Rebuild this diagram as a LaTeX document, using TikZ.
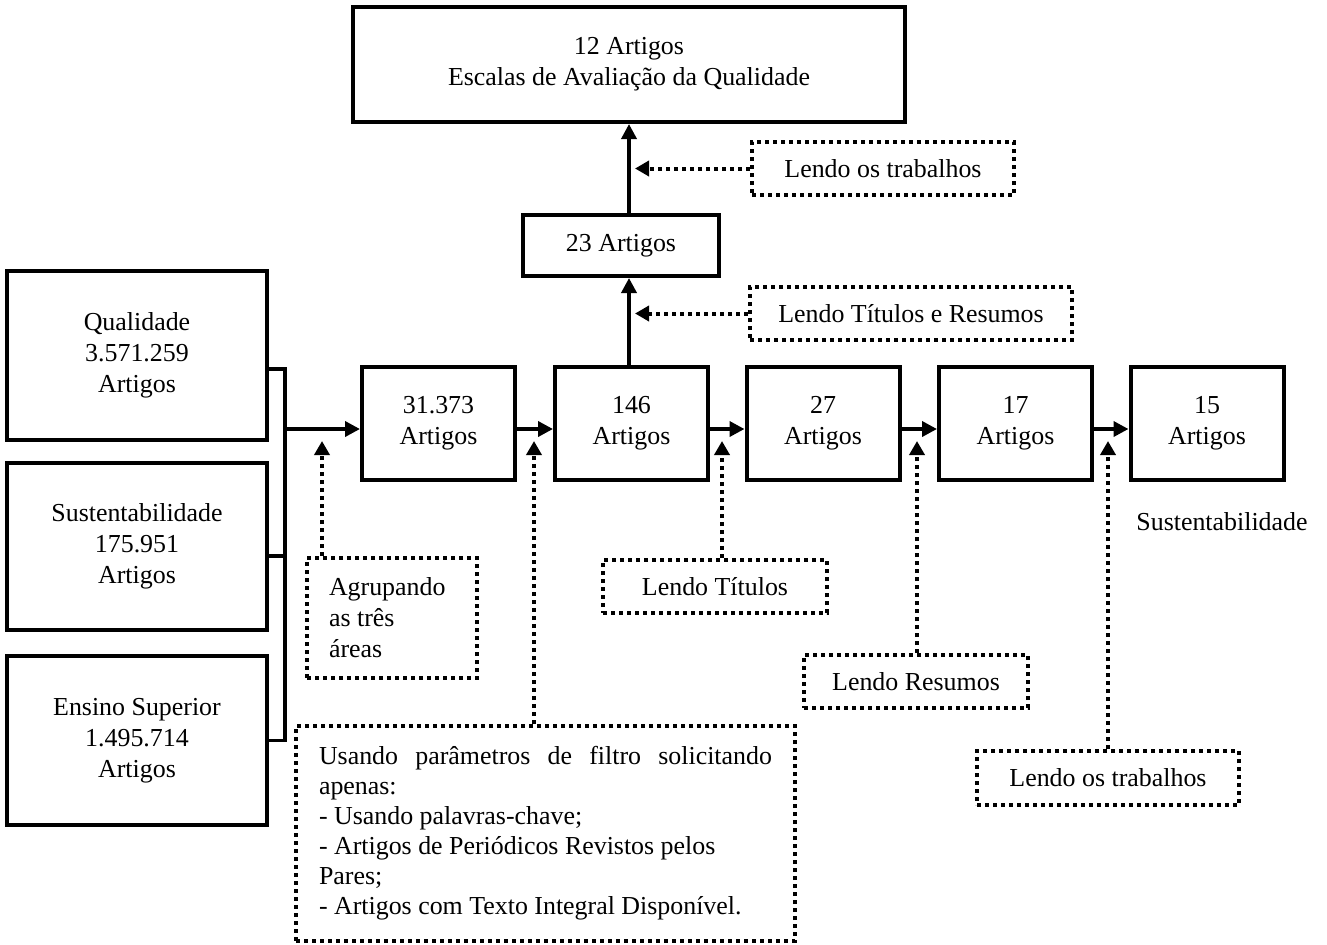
\documentclass[tikz,border=0pt]{standalone}
\usepackage{fontspec}
\setmainfont{Liberation Serif}
\usetikzlibrary{arrows.meta}

\begin{document}
\begin{tikzpicture}[x=0.5pt,y=-0.5pt,
	every node/.style={font=\fontsize{12.95}{15.5}\selectfont},
	box/.style={draw=black, line width=2pt, inner sep=0pt, align=center},
	rowbox/.style={box, minimum width=76.5pt, minimum height=56.5pt},
	dotbox/.style={draw=black, line width=2pt, dash pattern=on 2pt off 2pt, inner sep=0pt, align=center},
	line/.style={line width=1.8pt},
	arr/.style={line width=1.8pt, -{Triangle[length=7.5pt,width=7.5pt]}},
	darr/.style={line width=2pt, dash pattern=on 2pt off 2pt, -{Triangle[length=7pt,width=7.5pt]}}]

	\useasboundingbox (0,0) rectangle (1327,944);

	% resultado final
	\node[box, minimum width=276pt, minimum height=57.5pt] (top) at (629,64.5) {12 Artigos\\Escalas de Avaliação da Qualidade};
	\node[box, minimum width=98pt, minimum height=30.5pt] (n23) at (621,245.5) {23 Artigos};

	% bases de partida
	\node[box, minimum width=130pt, minimum height=84.5pt] (qual) at (137,355.5) {Qualidade\\3.571.259\\Artigos};
	\node[box, minimum width=130pt, minimum height=83.5pt] (sust) at (137,546.5) {Sustentabilidade\\175.951\\Artigos};
	\node[box, minimum width=130pt, minimum height=84.5pt] (ens) at (137,740.5) {Ensino Superior\\1.495.714\\Artigos};

	% linha de filtragem
	\node[rowbox] (n31) at (438.5,423.5) {31.373\\Artigos};
	\node[rowbox] (n146) at (631.5,423.5) {146\\Artigos};
	\node[rowbox] (n27) at (823,423.5) {27\\Artigos};
	\node[rowbox] (n17) at (1015.5,423.5) {17\\Artigos};
	\node[rowbox] (n15) at (1207,423.5) {15\\Artigos};
	\node (lbl) at (1222,522) {Sustentabilidade};

	% criterios
	\node[dotbox, minimum width=131pt, minimum height=26.5pt] (ltrabA) at (883,168.5) {Lendo os trabalhos};
	\node[dotbox, minimum width=161pt, minimum height=26.5pt] (ltr) at (911,313.5) {Lendo Títulos e Resumos};
	\node[dotbox, minimum width=85pt, minimum height=60pt, text width=63pt, align=flush left] (agr) at (392,618) {Agrupando\\as três\\áreas};
	\node[dotbox, minimum width=249.5pt, minimum height=107.5pt, text width=226.5pt, align=flush left, font=\fontsize{12.95}{15}\selectfont] (filt) at (545.5,833.5) {Usando\hfill parâmetros\hfill de\hfill filtro\hfill solicitando\\apenas:\\- Usando palavras-chave;\\- Artigos de Periódicos Revistos pelos\\Pares;\\- Artigos com Texto Integral Disponível.};
	\node[dotbox, minimum width=112pt, minimum height=26.5pt] (ltit) at (715,586.5) {Lendo Títulos};
	\node[dotbox, minimum width=112pt, minimum height=26.5pt] (lres) at (916,681.5) {Lendo Resumos};
	\node[dotbox, minimum width=131pt, minimum height=27pt] (ltrabB) at (1108,778) {Lendo os trabalhos};

	\coordinate (jn) at (285,429);
	\coordinate (tA) at (322,441);
	\coordinate (tB) at (534,441);
	\coordinate (tC) at (722,441);
	\coordinate (tD) at (917,441);
	\coordinate (tE) at (1108,441);

	% chave das tres areas
	\draw[line] ([yshift=-6.75pt]qual.east) -| (jn |- ens.east) -- (ens.east);
	\draw[line] ([yshift=-4.75pt]sust.east) -- ([yshift=-4.75pt]sust.east -| jn);
	\draw[arr] (jn) -- (n31.west |- jn);

	\draw[arr] ([yshift=-2.75pt]n31.east) -- ([yshift=-2.75pt]n146.west);
	\draw[arr] ([yshift=-2.75pt]n146.east) -- ([yshift=-2.75pt]n27.west);
	\draw[arr] ([yshift=-2.75pt]n27.east) -- ([yshift=-2.75pt]n17.west);
	\draw[arr] ([yshift=-2.75pt]n17.east) -- ([yshift=-2.75pt]n15.west);

	\draw[arr] (n146.north -| top.south) -- (n23.south -| top.south);
	\draw[arr] (n23.north -| top.south) -- (top.south);

	\draw[darr] (ltrabA.west) -- ([xshift=3pt]ltrabA.west -| top.south);
	\draw[darr] (ltr.west) -- ([xshift=3pt]ltr.west -| top.south);

	\draw[darr] (agr.north -| tA) -- (tA);
	\draw[darr] (filt.north -| tB) -- (tB);
	\draw[darr] (ltit.north -| tC) -- (tC);
	\draw[darr] (lres.north -| tD) -- (tD);
	\draw[darr] (ltrabB.north -| tE) -- (tE);

\end{tikzpicture}
\end{document}
